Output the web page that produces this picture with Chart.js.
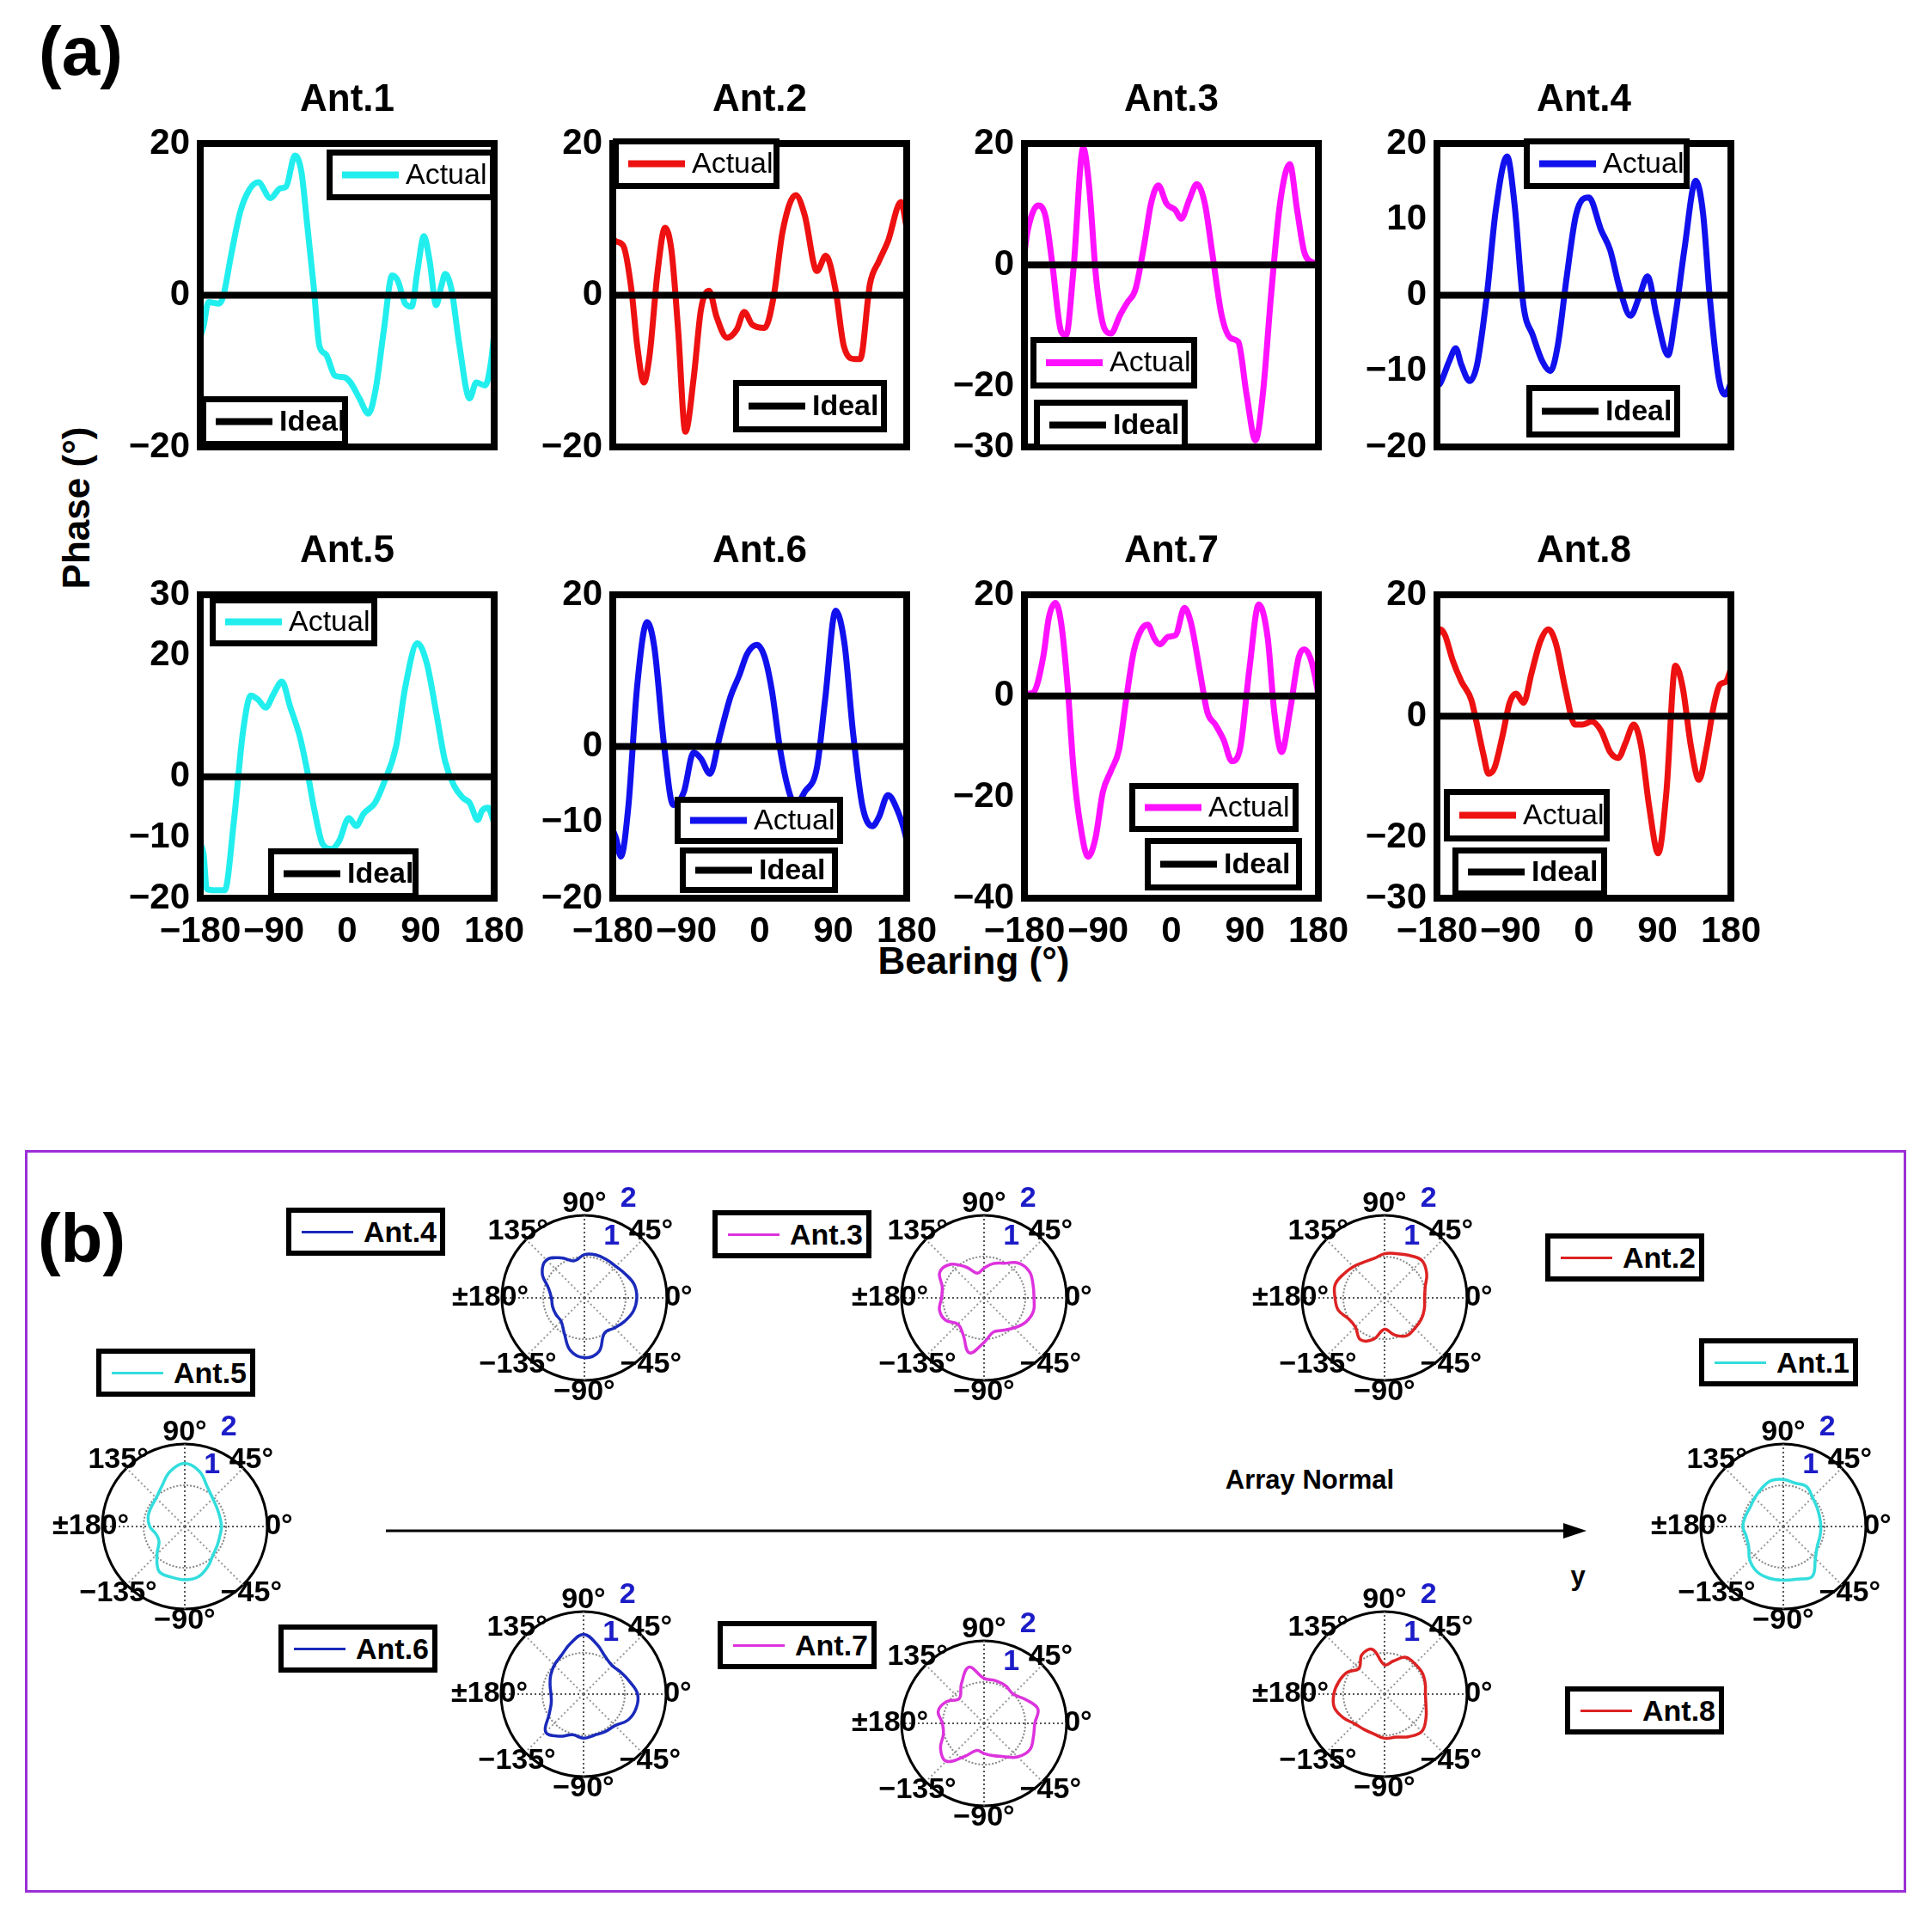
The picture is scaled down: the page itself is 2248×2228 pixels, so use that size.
<!DOCTYPE html>
<html>
<head>
<meta charset="utf-8">
<title>Antenna phase and pattern</title>
<script src="https://cdn.jsdelivr.net/npm/chart.js@4.4.1/dist/chart.umd.min.js"></script>
<style>
  body { margin: 0; background: #fff; }
  #page { position: relative; width: 2248px; height: 2228px; background: #fff; overflow: hidden;
          font-family: "Liberation Sans", Arial, sans-serif; color: #000; }
  #page canvas { position: absolute; }
  .txt { position: absolute; font-weight: bold; white-space: nowrap; line-height: 1; transform: translate(-50%, -50%); }
  .leg { position: absolute; box-sizing: border-box; border: 6px solid #000; background: #fff; }
  .leg .ln { position: absolute; left: 12px; width: 60px; top: 50%; height: 3px; margin-top: -1px; }
  .leg .tx { position: absolute; left: 84px; top: 50%; transform: translateY(-50%); font-weight: bold; font-size: 34px; line-height: 1; }
  #frameB { position: absolute; left: 29px; top: 1338px; width: 2189px; height: 864px; box-sizing: border-box; border: 3px solid #9a2fd6; }
</style>
</head>
<body>
<div id="page">
  <div class="txt" style="left:94px; top:60px; font-size:80px;">(a)</div>
  <div class="txt" style="left:89px; top:591px; font-size:44px; transform: translate(-50%, -50%) rotate(-90deg);">Phase (°)</div>
  <div class="txt" style="left:1133px; top:1118px; font-size:44px;">Bearing (°)</div>
  <div id="frameB"></div>
  <div class="txt" style="left:95px; top:1441px; font-size:80px;">(b)</div>
  <div class="txt" style="left:1524px; top:1721px; font-size:31px;">Array Normal</div>
  <div class="txt" style="left:1836px; top:1833px; font-size:31px;">y</div>
  <svg style="position:absolute; left:440px; top:1761px;" width="1430" height="40">
    <line x1="9" y1="20" x2="1386" y2="20" stroke="#000" stroke-width="3"></line>
    <polygon points="1406,20 1379,11 1379,29" fill="#000"></polygon>
  </svg>
</div>
<script>
Chart.defaults.font.family = '"Liberation Sans", Arial, sans-serif';
Chart.defaults.color = '#000';

// ---------- (a) phase vs bearing ----------
var bearingTicks = [-180, -90, 0, 90, 180];
var idealBearing = [-180, 180];
var idealPhase = [0, 0];

var ant1Bearing = [-180, -176, -170, -157, -152, -142, -131, -120, -109, -94, -82, -75, -64, -56, -49, -41, -34, -26, -15, -4, 4, 15, 26, 35, 45, 55, 62, 71, 79, 86, 94, 101, 109, 115, 120, 128, 137, 150, 158, 169, 176, 180];
var ant1Phase = [-5.5, -4.1, -0.9, -1.1, -0.2, 5.4, 11, 13.9, 14.9, 12.8, 14.1, 14.3, 18.4, 16.2, 9.3, 1.1, -6.7, -7.8, -10.6, -10.8, -11.5, -13.6, -15.6, -12.3, -4.5, 2.6, 1.9, -1.1, -1.5, 3.2, 7.8, 4.5, -1.3, 1.1, 2.8, 0.6, -6.3, -13.6, -11.5, -11.9, -8.9, -5];
var ant1Ticks = [-20, 0, 20];

var ant2Bearing = [-180, -176, -167, -157, -150, -142, -135, -125, -116, -108, -100, -91, -81, -72, -62, -53, -40, -28, -19, -9, 6, 17, 28, 44, 55, 70, 81, 93, 103, 116, 123, 135, 146, 157, 173, 180];
var ant2Phase = [7.5, 7.1, 6.5, 0.6, -6.7, -11.5, -8, 3.2, 8.9, 5.8, -4.5, -18, -11, -1.9, 0.6, -2.8, -5.6, -4.5, -2.2, -3.9, -4.3, -0.2, 8.4, 13.2, 10.6, 3.2, 5.2, 0.6, -6.7, -8.4, -8.4, 1.5, 4.5, 7.1, 12.3, 8.9];
var ant2Ticks = [-20, 0, 20];

var ant3Bearing = [-180, -176, -163, -154, -146, -135, -129, -120, -108, -101, -92, -82, -74, -63, -54, -44, -33, -25, -16, -6, 5, 12, 21.5, 31, 41, 50, 61.5, 73, 82, 92, 103, 112, 122, 133, 145, 154, 163, 175, 180];
var ant3Phase = [2, 5.7, 9.8, 7.9, 0.3, -11, -11.6, -0.8, 19.3, 13.3, -2.4, -10.5, -11.3, -8.3, -6.2, -4, 3.6, 10.1, 13.1, 10.1, 9, 7.6, 10.6, 13.3, 10.1, 2, -8.3, -12.1, -12.7, -21.3, -28.9, -21.3, -5.1, 10.1, 16.6, 9, 2, 0.3, 0];
var ant3Ticks = [-30, -20, 0, 20];

var ant4Bearing = [-180, -176, -165, -157, -150, -140, -131, -119, -108, -94, -85, -74, -62.5, -51, -41, -32, -21, -9.5, 6, 21, 32, 44, 57, 68, 78, 89, 103, 112, 123, 137, 146, 154, 165, 173, 180];
var ant4Phase = [-12, -11.6, -8.7, -7, -9.2, -11.3, -9.2, -0.1, 11.2, 18.3, 12, -1.4, -5.3, -8.7, -10, -6.6, 2.5, 10.7, 12.9, 8.6, 6, 0.8, -2.7, -0.1, 2.5, -2.7, -7.9, -2.7, 6, 15.1, 10.7, -0.1, -10.9, -13.1, -11.6];
var ant4Ticks = [-20, -10, 0, 10, 20];

var ant5Bearing = [-180, -176, -172, -161, -150, -139, -127.5, -118, -109, -100, -90, -80, -70, -58, -49, -40, -30, -19, -10, 2, 11, 20, 34, 45, 60, 71, 86, 97.5, 109, 120, 131, 142, 150, 160, 165, 172.5, 180];
var ant5Phase = [-11, -12.7, -18.5, -18.7, -18.7, -7.6, 7.6, 13.4, 12.7, 11.4, 13.7, 15.7, 11.6, 6.6, 1, -5.6, -11.1, -11.9, -10.6, -6.8, -8.1, -6.1, -4.3, -1, 5.1, 14.7, 22, 18.7, 10.6, 2.5, -1.5, -3.5, -4.3, -7.1, -5.6, -5.1, -7.6];
var ant5Ticks = [-20, -10, 0, 20, 30];

var ant6Bearing = [-180, -176, -170, -161, -150, -138, -129, -117, -106, -93, -81, -72, -61, -49, -36, -25, -15.5, -3.5, 6, 15, 25, 36, 44, 55, 70, 80, 93, 104, 114, 125.5, 138, 146, 157, 169, 178.5, 180];
var ant6Phase = [-11, -12.1, -14.5, -8, 8.1, 16.4, 13, 0, -7.7, -6, -0.8, -1.6, -3.6, 1.3, 6.5, 9.4, 12.2, 13.4, 11.8, 7.3, -0.4, -6, -7.7, -6, -2.8, 6.1, 17.9, 13.4, 2.1, -7.7, -10.5, -9.3, -6.4, -8.5, -11.7, -12.5];
var ant6Ticks = [-20, -10, 0, 20];

var ant7Bearing = [-180, -176, -169, -157, -150, -142, -135, -127, -120, -112, -102, -93, -84, -74, -64, -55.5, -46, -36.5, -29, -21, -14, -4, 5, 16, 24, 35, 44, 54, 64, 74, 84, 95.5, 107, 118, 126, 135, 145, 156, 163, 171, 178.5, 180];
var ant7Phase = [0, 0.4, 0.7, 7.7, 15.6, 18.4, 14.4, 1.6, -14.2, -25.1, -31.8, -28.1, -19, -14.8, -10.5, -0.8, 8.9, 13.2, 14.1, 11.4, 10.2, 11.7, 12, 17.4, 14.4, 4.7, -3.2, -5.7, -8.7, -12.9, -10.5, 5.3, 18.1, 11.4, -3.2, -11.1, -3.2, 7.7, 9.2, 7.1, 1.6, 0];
var ant7Ticks = [-40, -20, 0, 20];

var ant8Bearing = [-180, -176, -170, -161, -150, -138, -131, -123, -117, -109.5, -100, -91, -83, -74, -64, -53.5, -43.5, -34, -23, -11, -2, 9.5, 21, 32, 42, 51, 61, 70, 80, 91, 101, 112, 121, 131, 141, 150, 159, 166.5, 174, 180];
var ant8Phase = [13, 14.3, 13.3, 9.3, 5.7, 2.7, -1.4, -6.4, -9.5, -8.5, -3.4, 2.2, 3.7, 2.2, 7.2, 12.3, 14.3, 11.8, 4.6, -1.4, -1.4, -0.9, -2.4, -5.9, -6.9, -4.4, -1.4, -4.9, -15, -22.6, -12.5, 8.3, 4.7, -4.9, -10.5, -5.4, 1.7, 5.2, 5.7, 7.8];
var ant8Ticks = [-30, -20, 0, 20];

var antNames = ['Ant.1', 'Ant.2', 'Ant.3', 'Ant.4', 'Ant.5', 'Ant.6', 'Ant.7', 'Ant.8'];
var lineColors = ['#22eeee', '#ee1111', '#ff11ff', '#1111ee', '#22eeee', '#1111ee', '#ff11ff', '#ee1111'];

// ---------- (b) polar patterns, radius at 0..345 deg ----------
var polarAngles = [0, 15, 30, 45, 60, 75, 90, 105, 120, 135, 150, 165, 180, 195, 210, 225, 240, 255, 270, 285, 300, 315, 330, 345];
var pol1 = [0.91, 0.91, 0.94, 1.0, 1.12, 1.09, 1.14, 1.15, 1.06, 0.98, 0.93, 0.95, 0.98, 0.93, 0.97, 1.15, 1.27, 1.30, 1.30, 1.32, 1.40, 1.10, 0.95, 0.92];
var pol2 = [0.97, 1.02, 1.18, 1.28, 1.19, 1.11, 1.07, 0.99, 1.0, 1.07, 1.15, 1.24, 1.2, 1.16, 1.01, 1.0, 1.17, 1.04, 0.76, 0.93, 1.06, 1.04, 1.03, 1.0];
var pol3 = [1.21, 1.23, 1.27, 1.19, 0.97, 0.86, 0.72, 0.62, 0.86, 1.15, 1.24, 1.05, 1.03, 1.12, 1.08, 0.90, 1.02, 1.38, 1.08, 0.86, 0.91, 1.03, 1.17, 1.24];
var pol4 = [1.27, 1.25, 1.15, 1.08, 1.07, 1.08, 1.05, 0.93, 1.12, 1.30, 1.18, 0.90, 0.80, 0.80, 0.80, 0.80, 0.98, 1.32, 1.45, 1.35, 0.98, 1.03, 1.13, 1.23];
var pol5 = [0.89, 0.88, 0.90, 0.96, 1.10, 1.38, 1.53, 1.38, 1.12, 0.98, 0.94, 0.92, 0.85, 0.72, 0.72, 0.95, 1.25, 1.27, 1.29, 1.26, 1.12, 0.97, 0.91, 0.88];
var pol6 = [1.31, 1.16, 1.05, 0.98, 1.05, 1.25, 1.45, 1.26, 1.08, 1.0, 0.92, 0.84, 0.79, 0.81, 0.96, 1.30, 1.18, 1.02, 1.07, 1.03, 1.05, 1.08, 1.25, 1.32];
var pol7 = [1.23, 1.35, 1.16, 1.0, 1.05, 1.07, 1.09, 1.41, 1.1, 0.85, 1.05, 1.15, 1.01, 1.02, 1.22, 1.30, 0.92, 0.68, 0.73, 0.81, 0.93, 1.15, 1.28, 1.24];
var pol8 = [0.99, 1.02, 1.05, 1.04, 1.03, 0.83, 0.71, 1.12, 1.1, 0.88, 1.05, 1.15, 1.23, 1.26, 1.15, 1.02, 0.99, 1.0, 1.07, 1.08, 1.19, 1.28, 1.16, 1.04];
var polarColors = ['#33dddd', '#dd2222', '#dd33dd', '#1a2abb', '#33dddd', '#1a2abb', '#dd33dd', '#dd2222'];
var radiusTicks = [1, 2];
var angleTicks = [0, 45, 90, 135, 180, -135, -90, -45];
var angleTickLabels = ['0°', '45°', '90°', '135°', '±180°', '\u2212135°', '\u221290°', '\u221245°'];

var page = document.getElementById('page');

function addCanvas(left, top, w, h) {
    var c = document.createElement('canvas');
    c.width = w; c.height = h;
    c.style.left = left + 'px'; c.style.top = top + 'px';
    c.style.width = w + 'px'; c.style.height = h + 'px';
    page.appendChild(c);
    return c;
}

function minus(v) { return String(v).replace('-', '\u2212'); }

// frame, title and the two legend boxes of a phase plot
var phaseDeco = {
    id: 'phaseDeco',
    afterDatasetsDraw: function (chart, args, o) {
        var a = chart.chartArea, c = chart.ctx;
        c.save();
        c.lineWidth = 8; c.strokeStyle = '#000';
        c.strokeRect(a.left, a.top, a.right - a.left, a.bottom - a.top);
        c.fillStyle = '#000'; c.textAlign = 'center'; c.textBaseline = 'middle';
        c.font = 'bold 44px "Liberation Sans", Arial';
        c.fillText(o.title, (a.left + a.right) / 2, a.top - 50);
        o.boxes.forEach(function (b) {
            var x = a.left + b.x, y = a.top + b.y;
            c.fillStyle = '#fff'; c.fillRect(x, y, b.w, b.h);
            c.lineWidth = 7; c.strokeStyle = '#000';
            c.strokeRect(x + 3.5, y + 3.5, b.w - 7, b.h - 7);
            c.lineWidth = 8; c.strokeStyle = b.color;
            c.beginPath(); c.moveTo(x + 18, y + b.h / 2); c.lineTo(x + 84, y + b.h / 2); c.stroke();
            c.fillStyle = '#000'; c.textAlign = 'left';
            c.font = (b.bold ? 'bold ' : '') + '34px "Liberation Sans", Arial';
            c.fillText(b.text, x + 92, y + b.h / 2 + 1);
        });
        c.restore();
    }
};

function makePhaseChart(n, bearing, phase, ticks, boxLeft, boxTop, showX, actualBox, idealBox) {
    var el = addCanvas(boxLeft - 120, boxTop - 100, 512, 523);
    actualBox.text = 'Actual'; actualBox.color = lineColors[n]; actualBox.bold = false;
    idealBox.text = 'Ideal'; idealBox.color = '#000'; idealBox.bold = true;
    var tickFont = { size: 42, weight: 'bold' };
    new Chart(el.getContext('2d'), {
        type: 'line',
        data: {
            datasets: [{
                label: 'Actual',
                data: bearing.map(function (b, i) { return { x: b, y: phase[i] }; }),
                borderColor: lineColors[n],
                borderWidth: 7,
                pointRadius: 0,
                cubicInterpolationMode: 'monotone',
                order: 1
            }, {
                label: 'Ideal',
                data: idealBearing.map(function (b, i) { return { x: b, y: idealPhase[i] }; }),
                borderColor: '#000',
                borderWidth: 8,
                pointRadius: 0,
                order: 0
            }]
        },
        options: {
            responsive: false,
            animation: false,
            devicePixelRatio: 1,
            layout: { padding: { top: 100, right: 50, left: 0, bottom: 0 } },
            plugins: {
                legend: { display: false },
                tooltip: { enabled: false },
                phaseDeco: { title: antNames[n], boxes: [actualBox, idealBox] }
            },
            scales: {
                x: {
                    type: 'linear', min: -180, max: 180,
                    afterBuildTicks: function (s) { s.ticks = bearingTicks.map(function (v) { return { value: v }; }); },
                    afterFit: function (s) { s.height = 70; },
                    grid: { display: false, drawTicks: false },
                    border: { display: false },
                    ticks: { display: showX, autoSkip: false, maxRotation: 0, minRotation: 0, padding: 14, font: tickFont, callback: minus }
                },
                y: {
                    min: ticks[0], max: ticks[ticks.length - 1],
                    afterBuildTicks: function (s) { s.ticks = ticks.map(function (v) { return { value: v }; }); },
                    afterFit: function (s) { s.width = 120; },
                    grid: { display: false, drawTicks: false },
                    border: { display: false },
                    ticks: { autoSkip: false, padding: 12, font: tickFont, callback: minus }
                }
            }
        },
        plugins: [phaseDeco]
    });
}

var colLeft = [233, 713, 1192, 1672];
var rowTop = [167, 692];

makePhaseChart(0, ant1Bearing, ant1Phase, ant1Ticks, colLeft[0], rowTop[0], false,
    { x: 147, y: 7, w: 197, h: 59 }, { x: 0, y: 294, w: 172, h: 59 });
makePhaseChart(1, ant2Bearing, ant2Phase, ant2Ticks, colLeft[1], rowTop[0], false,
    { x: 0, y: -6, w: 194, h: 59 }, { x: 140, y: 275, w: 179, h: 61 });
makePhaseChart(2, ant3Bearing, ant3Phase, ant3Ticks, colLeft[2], rowTop[0], false,
    { x: 7, y: 225, w: 194, h: 60 }, { x: 11, y: 298, w: 179, h: 59 });
makePhaseChart(3, ant4Bearing, ant4Phase, ant4Ticks, colLeft[3], rowTop[0], false,
    { x: 101, y: -6, w: 193, h: 59 }, { x: 104, y: 281, w: 179, h: 61 });
makePhaseChart(4, ant5Bearing, ant5Phase, ant5Ticks, colLeft[0], rowTop[1], true,
    { x: 11, y: 3, w: 195, h: 57 }, { x: 79, y: 295, w: 175, h: 59 });
makePhaseChart(5, ant6Bearing, ant6Phase, ant6Ticks, colLeft[1], rowTop[1], true,
    { x: 72, y: 235, w: 196, h: 55 }, { x: 78, y: 294, w: 184, h: 53 });
makePhaseChart(6, ant7Bearing, ant7Phase, ant7Ticks, colLeft[2], rowTop[1], true,
    { x: 122, y: 219, w: 197, h: 57 }, { x: 140, y: 283, w: 183, h: 61 });
makePhaseChart(7, ant8Bearing, ant8Phase, ant8Ticks, colLeft[3], rowTop[1], true,
    { x: 8, y: 226, w: 193, h: 61 }, { x: 18, y: 294, w: 180, h: 57 });

// ---------- (b) polar plots as radar charts ----------
var nAng = polarAngles.length;
// radar goes clockwise from the right, so index i is the angle -15*i
var radarLabels = polarAngles.map(function (a, i) { return polarAngles[(nAng - i) % nAng] + '°'; });

var polarText = {
    id: 'polarText',
    afterDraw: function (chart) {
        var s = chart.scales.r, c = chart.ctx;
        c.save();
        c.font = 'bold 34px "Liberation Sans", Arial';
        c.textAlign = 'center'; c.textBaseline = 'middle';
        c.fillStyle = '#000';
        angleTicks.forEach(function (a, k) {
            var idx = (((360 - a) % 360) + 360) % 360 / 15;
            var p = s.getPointPosition(idx, s.drawingArea * 1.14);
            c.fillText(angleTickLabels[k], p.x, p.y);
        });
        c.fillStyle = '#1c1cc8';
        var ang = 66 * Math.PI / 180;
        radiusTicks.forEach(function (v) {
            var d = s.getDistanceFromCenterForValue(v) + 30;
            c.fillText(String(v), s.xCenter + d * Math.cos(ang), s.yCenter - d * Math.sin(ang));
        });
        c.restore();
    }
};

function makePolarChart(n, radii, cx, cy) {
    var el = addCanvas(cx - 170, cy - 170, 340, 340);
    new Chart(el.getContext('2d'), {
        type: 'radar',
        data: {
            labels: radarLabels,
            datasets: [{
                label: antNames[n],
                data: radarLabels.map(function (l, i) { return radii[(nAng - i) % nAng]; }),
                borderColor: polarColors[n],
                borderWidth: 3.5,
                fill: false,
                pointRadius: 0,
                tension: 0.4
            }]
        },
        options: {
            responsive: false,
            animation: false,
            devicePixelRatio: 1,
            layout: { padding: 74 },
            plugins: { legend: { display: false }, tooltip: { enabled: false } },
            scales: {
                r: {
                    min: 0, max: 2, startAngle: 90,
                    ticks: { display: false, stepSize: 1 },
                    pointLabels: { display: false },
                    grid: {
                        circular: true,
                        color: function (ctx) { return ctx.tick.value === 2 ? '#000' : '#888'; },
                        lineWidth: function (ctx) { return ctx.tick.value === 2 ? 3 : 2; }
                    },
                    border: { dash: function (ctx) { return ctx.tick.value === 2 ? [] : [2, 2]; } },
                    angleLines: {
                        color: function (ctx) { return ctx.index % 6 === 0 ? '#555' : '#999'; },
                        lineWidth: function (ctx) { return ctx.index % 3 === 0 ? 2 : 0; },
                        borderDash: [2, 3]
                    }
                }
            }
        },
        plugins: [polarText]
    });
}

makePolarChart(3, pol4, 680, 1510);
makePolarChart(2, pol3, 1145, 1510);
makePolarChart(1, pol2, 1611, 1510);
makePolarChart(4, pol5, 215, 1776);
makePolarChart(0, pol1, 2075, 1776);
makePolarChart(5, pol6, 679, 1971);
makePolarChart(6, pol7, 1145, 2005);
makePolarChart(7, pol8, 1611, 1971);

// legend boxes of part (b)
var polarLegendPos = [[1977, 1557], [1798, 1435], [829, 1408], [333, 1405], [112, 1569], [324, 1890], [835, 1886], [1821, 1962]];
polarLegendPos.forEach(function (p, n) {
    var d = document.createElement('div');
    d.className = 'leg';
    d.style.left = p[0] + 'px'; d.style.top = p[1] + 'px';
    d.style.width = '185px'; d.style.height = '56px';
    d.innerHTML = '<span class="ln" style="background:' + polarColors[n] + '"></span><span class="tx">' + antNames[n] + '</span>';
    page.appendChild(d);
});
</script>
</body>
</html>
